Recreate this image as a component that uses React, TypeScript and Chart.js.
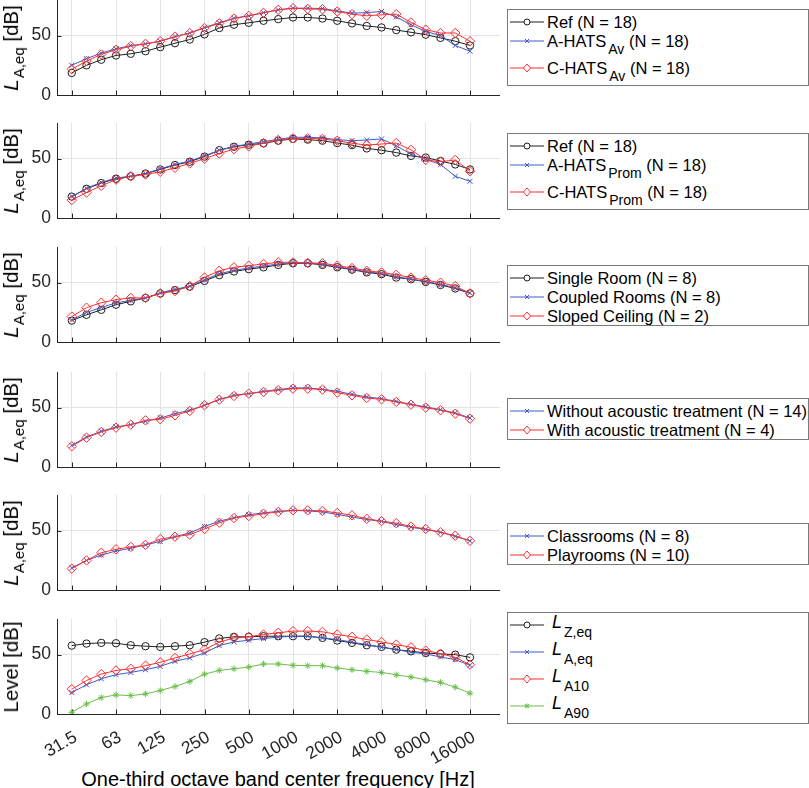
"use client";
import { useEffect, useRef } from "react";
import { Chart, registerables } from "chart.js";

Chart.register(...registerables);

// one-third octave bands (x positions are the band index)
const bands = ["31.5", "40", "50", "63", "80", "100", "125", "160", "200", "250", "315", "400", "500", "630", "800", "1000", "1250", "1600", "2000", "2500", "3150", "4000", "5000", "6300", "8000", "10000", "12500", "16000"];
const tickLabels = ["31.5", "63", "125", "250", "500", "1000", "2000", "4000", "8000", "16000"];
const yTicks = [0, 50];

// panel 1 - HATS average
const refAv = [18.6, 25, 29.7, 33.3, 34.7, 36.9, 40.3, 43.6, 46.7, 51.1, 56.4, 59.2, 60.8, 62.5, 63.9, 65.3, 65.3, 64.4, 62.5, 60.3, 58.1, 56.9, 54.7, 52.8, 50.8, 48.1, 45.3, 41.7];
const aHatsAv = [25, 30.6, 35.3, 38.9, 41.7, 43.1, 45.3, 49.2, 52.2, 56.9, 60.8, 64.7, 66.7, 69.4, 71.7, 73.1, 73.1, 72.8, 70.8, 68.9, 69.4, 70.3, 65.8, 59.2, 53.6, 50, 41.7, 36.9];
const cHatsAv = [21.7, 28.6, 34.2, 38.1, 41.1, 43.1, 45.3, 49.2, 52.2, 56.4, 60.3, 64.4, 66.7, 69.2, 71.7, 73.1, 72.5, 72.2, 70.3, 68.1, 66.7, 67.5, 68.1, 61.1, 55, 52.2, 52.2, 45.3];

// panel 2 - HATS prominent
const refProm = [18, 24.6, 29.4, 33.1, 35.1, 37.4, 40.9, 44.6, 47.4, 51.7, 57.1, 60, 61.7, 62.9, 65.1, 66.6, 66, 65.1, 63.1, 61.4, 58.6, 57.1, 55.1, 52.3, 50.9, 48, 45.1, 40.9];
const aHatsProm = [18, 25.1, 30, 33.7, 35.1, 37.4, 41.4, 45.1, 48, 52.3, 57.1, 60.3, 62.3, 64.3, 66.3, 68, 68, 67.4, 66, 65.1, 65.7, 66.6, 60.9, 53.7, 49.4, 45.1, 35.1, 30.9];
const cHatsProm = [15.1, 21.4, 27.1, 32.3, 35.1, 36.6, 38.9, 42.3, 46, 50, 54.3, 58, 60.3, 63.1, 65.7, 67.1, 67.1, 66.6, 65.1, 62.9, 61.4, 62.3, 63.1, 57.4, 48.9, 47.4, 48.9, 39.4];

// panel 3 - room type
const singleRoom = [18, 22.9, 27.1, 31.4, 34.3, 37.1, 40.9, 43.7, 46.6, 51.4, 56.3, 59.4, 61.4, 62.9, 64.9, 66.3, 66.3, 64.9, 62.9, 60.9, 58.6, 57.1, 54.3, 52.9, 50.6, 48, 45.1, 40.9];
const coupledRooms = [18.6, 24.9, 29.1, 32.9, 35.1, 37.1, 41.4, 44.3, 47.1, 52.3, 57.4, 60.3, 62.3, 64, 65.7, 66.9, 66.6, 65.4, 63.4, 61.4, 59.1, 57.7, 55.1, 52.9, 50.9, 48.6, 45.7, 41.4];
const slopedCeiling = [21.4, 28.9, 33.1, 35.7, 37.1, 37.1, 40.9, 42.9, 47.1, 54.3, 60, 62.9, 64.3, 65.7, 67.1, 67.1, 66.6, 66.3, 64.3, 62.3, 60, 58.6, 56.6, 54.3, 52, 50, 47.1, 40.9];

// panel 4 - acoustic treatment
const withoutTreatment = [18.3, 25.3, 30.1, 33.7, 35.7, 38.5, 41.3, 44.9, 47.8, 52, 57, 60.4, 61.8, 63.8, 65.2, 66.6, 66.6, 65.4, 63.8, 61.2, 59, 57.6, 55.3, 52.8, 50.6, 48.3, 45.5, 41.3];
const withTreatment = [17.4, 24.7, 29.5, 33.1, 35.7, 39.3, 40.2, 43.5, 47.2, 52, 56.7, 59.8, 61.8, 63.2, 64.6, 66, 66, 65.2, 62.6, 60.4, 58.1, 57, 54.8, 52.5, 50, 47.8, 44.9, 40.7];

// panel 5 - room use
const classrooms = [18.6, 24.9, 29.4, 32.9, 35.1, 38, 40.9, 44.9, 48, 53.4, 58, 60.9, 63.4, 64.9, 66.3, 67.1, 66.6, 65.7, 63.7, 61.4, 59.4, 57.7, 55.1, 52.9, 50.9, 48.6, 45.1, 41.4];
const playrooms = [18, 24.9, 31.4, 34.3, 36.3, 38, 42.9, 44.9, 46.6, 51.4, 56.6, 60.6, 62.3, 64.3, 65.7, 67.1, 67.1, 66.6, 64.9, 62.9, 60, 58, 56.3, 53.4, 51.4, 48.6, 45.7, 41.4];

// panel 6 - level descriptors
const lZeq = [57.6, 59.3, 59.9, 59.6, 57.9, 57.1, 56.5, 57.1, 57.9, 60.5, 63.6, 65, 65, 65.5, 65.5, 65.5, 65.5, 64.1, 61.9, 59.9, 57.9, 56.5, 54.2, 52.8, 51.4, 50.6, 50, 47.7];
const lAeq = [18.1, 24.6, 29.7, 33.1, 35, 37.3, 40.1, 44.4, 47.2, 51.4, 57.6, 60.7, 62.1, 63.6, 64.7, 65.5, 65.5, 64.1, 62.7, 60.5, 58.5, 56.2, 54.2, 52, 50.6, 48, 45.8, 41];
const lA10 = [20.9, 28.2, 33.6, 36.7, 38.1, 40.7, 43.5, 47.2, 50.6, 54.2, 60.5, 64.1, 65, 67, 68.4, 69.8, 69.8, 69.2, 67, 65, 62.7, 60.7, 58.5, 56.2, 53.4, 50.8, 47.7, 41.5];
const lA90 = [1.4, 8.5, 13.8, 16.1, 15.5, 16.9, 19.8, 23.2, 27.4, 33.6, 36.7, 38.1, 39.5, 42.1, 42.1, 41, 40.7, 40.7, 38.7, 37.3, 35.9, 35, 33, 31.1, 28.8, 26.6, 22.6, 17.5];

const FONT = "'Liberation Sans', Arial, Helvetica, sans-serif";
const AXIS = "#262626";

const styles = {
  k: { color: "#1e1e1e", point: "circle", r: 3.7 },
  b: { color: "#3d5cc6", point: "crossRot", r: 3.6 },
  r: { color: "#ff2d2d", point: "rectRot", r: 4.7 },
  g: { color: "#6cbf4c", point: "star", r: 3.2 },
};

type Label = { pre?: string; ital?: string; sub?: string; post?: string };
type Series = { values: number[]; style: keyof typeof styles; label: Label };

const panels: { zero: number; yLabel: "L" | "Level"; legendTop: number; series: Series[] }[] = [
  {
    zero: 95, yLabel: "L", legendTop: 9,
    series: [
      { values: refAv, style: "k", label: { pre: "Ref (N = 18)" } },
      { values: aHatsAv, style: "b", label: { pre: "A-HATS", sub: "Av", post: " (N = 18)" } },
      { values: cHatsAv, style: "r", label: { pre: "C-HATS", sub: "Av", post: " (N = 18)" } },
    ],
  },
  {
    zero: 218, yLabel: "L", legendTop: 133,
    series: [
      { values: refProm, style: "k", label: { pre: "Ref (N = 18)" } },
      { values: aHatsProm, style: "b", label: { pre: "A-HATS", sub: "Prom", post: " (N = 18)" } },
      { values: cHatsProm, style: "r", label: { pre: "C-HATS", sub: "Prom", post: " (N = 18)" } },
    ],
  },
  {
    zero: 342, yLabel: "L", legendTop: 265,
    series: [
      { values: singleRoom, style: "k", label: { pre: "Single Room (N = 8)" } },
      { values: coupledRooms, style: "b", label: { pre: "Coupled Rooms (N = 8)" } },
      { values: slopedCeiling, style: "r", label: { pre: "Sloped Ceiling (N = 2)" } },
    ],
  },
  {
    zero: 467, yLabel: "L", legendTop: 398,
    series: [
      { values: withoutTreatment, style: "b", label: { pre: "Without acoustic treatment (N = 14)" } },
      { values: withTreatment, style: "r", label: { pre: "With acoustic treatment (N = 4)" } },
    ],
  },
  {
    zero: 590, yLabel: "L", legendTop: 523,
    series: [
      { values: classrooms, style: "b", label: { pre: "Classrooms (N = 8)" } },
      { values: playrooms, style: "r", label: { pre: "Playrooms (N = 10)" } },
    ],
  },
  {
    zero: 714, yLabel: "Level", legendTop: 612,
    series: [
      { values: lZeq, style: "k", label: { ital: "L", sub: "Z,eq" } },
      { values: lAeq, style: "b", label: { ital: "L", sub: "A,eq" } },
      { values: lA10, style: "r", label: { ital: "L", sub: "A10" } },
      { values: lA90, style: "g", label: { ital: "L", sub: "A90" } },
    ],
  },
];

const PLOT_H = 95;
const PAD_TOP = 10;
const PAD_BOTTOM = 14; // room for the "0" label on panels without x labels
const X_LABELS_H = 50;
const CANVAS_W = 510;
const LEFT = 57;

// MATLAB-style inward tick marks
const innerTicks = {
  id: "innerTicks",
  beforeDatasetsDraw(chart: any) {
    const { ctx, chartArea: a, scales } = chart;
    ctx.save();
    ctx.strokeStyle = AXIS;
    ctx.lineWidth = 1;
    ctx.beginPath();
    scales.x.ticks.forEach((t: any) => {
      const px = Math.round(scales.x.getPixelForValue(t.value)) + 0.5;
      ctx.moveTo(px, a.bottom);
      ctx.lineTo(px, a.bottom - 4.5);
    });
    scales.y.ticks.forEach((t: any) => {
      const py = Math.round(scales.y.getPixelForValue(t.value)) + 0.5;
      ctx.moveTo(a.left, py);
      ctx.lineTo(a.left + 4.5, py);
    });
    ctx.stroke();
    ctx.restore();
  },
};

function Panel({ series, showX, height }: { series: Series[]; showX: boolean; height: number }) {
  const canvasRef = useRef<HTMLCanvasElement | null>(null);
  useEffect(() => {
    const tickIdx = tickLabels.map((l) => bands.indexOf(l));
    const chart = new Chart(canvasRef.current!, {
      type: "line",
      data: {
        datasets: series.map((s, i) => {
          const st = styles[s.style];
          return {
            data: s.values.map((v, j) => ({ x: j, y: v })),
            borderColor: st.color,
            borderWidth: 1,
            pointStyle: st.point as any,
            pointRadius: st.r,
            pointBorderColor: st.color,
            pointBackgroundColor: "rgba(0,0,0,0)",
            pointBorderWidth: 1,
            tension: 0,
            order: series.length - i,
          };
        }),
      },
      options: {
        animation: false,
        responsive: false,
        events: [],
        layout: {
          autoPadding: false,
          padding: { left: 0, right: CANVAS_W - 499.5, top: PAD_TOP, bottom: showX ? 0 : PAD_BOTTOM },
        },
        plugins: { legend: { display: false }, tooltip: { enabled: false } },
        scales: {
          x: {
            type: "linear",
            min: -1,
            max: 29,
            afterBuildTicks: (s: any) => {
              s.ticks = tickIdx.map((v) => ({ value: v }));
            },
            afterFit: (s: any) => {
              s.height = showX ? X_LABELS_H : 0;
              s.paddingLeft = 0;
              s.paddingRight = 0;
            },
            ticks: {
              display: showX,
              autoSkip: false,
              minRotation: 30,
              maxRotation: 30,
              padding: 13,
              labelOffset: 4,
              color: AXIS,
              font: { family: FONT, size: 17.5 },
              callback: (v: any) => bands[v] ?? "",
            },
            grid: { color: "#e3e3e3", drawTicks: false },
            border: { color: AXIS },
          },
          y: {
            min: 0,
            max: 80,
            afterBuildTicks: (s: any) => {
              s.ticks = yTicks.map((v) => ({ value: v }));
            },
            afterFit: (s: any) => {
              s.width = LEFT;
              s.paddingTop = 0;
              s.paddingBottom = 0;
            },
            ticks: { padding: 6, color: AXIS, font: { family: FONT, size: 17.5 } },
            grid: { color: "#e3e3e3", drawTicks: false },
            border: { color: AXIS },
          },
        },
      },
      plugins: [innerTicks],
    });
    return () => chart.destroy();
  }, [series, showX]);
  return <canvas ref={canvasRef} width={CANVAS_W} height={height} style={{ width: CANVAS_W, height, display: "block" }} />;
}

function Marker({ style }: { style: keyof typeof styles }) {
  const c = styles[style].color;
  let shape;
  if (style === "k") shape = <circle cx={17} cy={7} r={3} fill="white" stroke={c} />;
  else if (style === "b") shape = <path d="M15 5 L19 9 M19 5 L15 9" stroke={c} />;
  else if (style === "r") shape = <path d="M17 3 L20.5 7 L17 11 L13.5 7 Z" fill="white" stroke={c} />;
  else shape = <path d="M15 5 L19 9 M19 5 L15 9 M17 4.5 L17 9.5 M14.5 7 L19.5 7" stroke={c} />;
  return (
    <svg width={34} height={14} style={{ position: "absolute", left: 2, top: -7 }}>
      <line x1={0} y1={7} x2={34} y2={7} stroke={c} strokeWidth={1} />
      {shape}
    </svg>
  );
}

function LegendBox({ top, series }: { top: number; series: Series[] }) {
  let y = 2;
  const rows = series.map((s, i) => {
    const hasSub = !!s.label.sub;
    const h = hasSub ? 27 : 19;
    const center = hasSub ? 10 : 9.5;
    const rowTop = y;
    y += h;
    const l = s.label;
    return (
      <div key={i} style={{ position: "absolute", left: 0, top: rowTop + center, width: "100%" }}>
        <Marker style={s.style} />
        <div style={{ position: "absolute", left: l.ital ? 44 : 39, top: l.ital ? -13 : -10, whiteSpace: "nowrap", fontSize: 16.5, lineHeight: "20px" }}>
          {l.ital && <i style={{ fontSize: 18 }}>{l.ital}</i>}
          {l.pre}
          {l.sub && <span style={{ position: "relative", top: l.ital ? 9 : 7, fontSize: 14, marginLeft: 2 }}>{l.sub}</span>}
          {l.post}
        </div>
      </div>
    );
  });
  return (
    <div style={{ position: "absolute", left: 507, top, width: 300, height: y, border: "1px solid #7a7a7a", background: "white" }}>
      {rows}
    </div>
  );
}

function YLabel({ kind, center }: { kind: "L" | "Level"; center: number }) {
  return (
    <div
      style={{
        position: "absolute",
        left: 11,
        top: center,
        transform: "translate(-50%, -50%) rotate(-90deg)",
        whiteSpace: "nowrap",
        fontSize: 20.5,
        lineHeight: "22px",
        height: 22,
        color: "#000",
      }}
    >
      {kind === "L" ? (
        <>
          <i style={{ fontSize: 21 }}>L</i>
          <span style={{ position: "relative", top: 6, fontSize: 15, marginLeft: 1 }}>A,eq</span> [dB]
        </>
      ) : (
        "Level [dB]"
      )}
    </div>
  );
}

export default function App() {
  return (
    <div style={{ position: "absolute", left: 0, top: 0, width: 809, height: 788, overflow: "hidden", background: "white", fontFamily: FONT }}>
      {panels.map((p, i) => {
        const showX = i === panels.length - 1;
        const h = PAD_TOP + PLOT_H + (showX ? X_LABELS_H : PAD_BOTTOM);
        return (
          <div key={i}>
            <div style={{ position: "absolute", left: 0, top: p.zero - PLOT_H - PAD_TOP }}>
              <Panel series={p.series} showX={showX} height={h} />
            </div>
            <YLabel kind={p.yLabel} center={p.zero - PLOT_H / 2} />
            <LegendBox top={p.legendTop} series={p.series} />
          </div>
        );
      })}
      <div style={{ position: "absolute", left: 278, top: 769, transform: "translateX(-50%)", whiteSpace: "nowrap", fontSize: 20, lineHeight: "20px", color: "#000" }}>
        One-third octave band center frequency [Hz]
      </div>
    </div>
  );
}
